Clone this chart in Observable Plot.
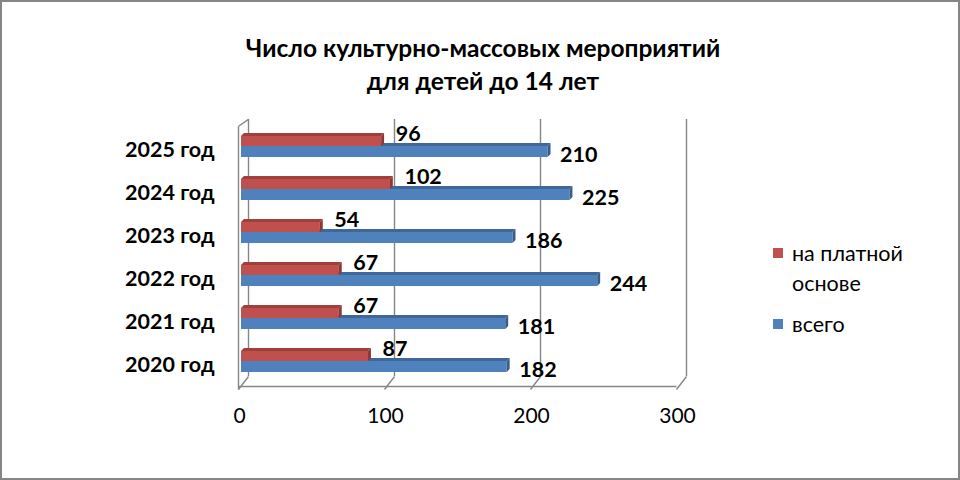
<!DOCTYPE html>
<html><head><meta charset="utf-8">
<script src="https://cdn.jsdelivr.net/npm/d3@7"></script>
<script src="https://cdn.jsdelivr.net/npm/@observablehq/plot@0.6"></script>
<style>
body{margin:0;background:#fff;}
#wrap{position:relative;width:960px;height:480px;overflow:hidden;font-family:Lato,"Open Sans",sans-serif;color:#000;}
#chart{position:absolute;left:0;top:0;}
#border{position:absolute;left:0;top:0;width:956px;height:476px;border:2px solid #868686;pointer-events:none;}
#title{position:absolute;left:0;top:31px;width:966px;text-align:center;font-weight:bold;font-size:24.5px;line-height:33px;}
#legend{position:absolute;left:773px;top:238px;font-size:21.5px;line-height:30px;}
.li{position:relative;padding-left:19px;}
.sw{position:absolute;left:0;width:10px;height:10px;}
</style></head>
<body><div id="wrap"><div id="chart"></div><div id="title"></div><div id="legend"></div><div id="border"></div></div>
<script>
const years = ["2020 год","2021 год","2022 год","2023 год","2024 год","2025 год"];
const paid = [87, 67, 67, 54, 102, 96];
const total = [182, 181, 244, 186, 225, 210];
const xTicks = [0, 100, 200, 300];
const seriesNames = ["на платной основе", "всего"];
const titleLines = ["Число культурно-массовых мероприятий", "для детей до 14 лет"];

const RED = "#C0504D", RED_DARK = "#8C3836", RED_TOP = "#9E403D";
const BLUE = "#4F81BD", BLUE_DARK = "#385D8A", BLUE_TOP = "#3F6797";
const GRID = "#868686";

const idx = years.map((_, i) => i);
const rows = idx.map(i => ({i, year: years[i], paid: paid[i], total: total[i]}));

// 3D geometry (in scale units)
const DX = 6.85, FY = -0.58, BY = -0.35, WALL_TOP_F = 5.47, WALL_TOP_B = 5.63;
const BD = 2, BH = 0.07;           // bar depth
const RH = 0.233, BLH = 0.256;     // front face heights

const floorTicks = xTicks.map(t => ({x1: t, y1: -0.65, x2: t + DX, y2: BY}));
const gridLines = xTicks.map(t => ({x: t + DX}));

function topFace(vals, y0) {
  return idx.flatMap(i => [
    {i, y: y0(i), x1: 0, x2: vals[i]},
    {i, y: y0(i) + BH, x1: BD, x2: vals[i] + BD}
  ]);
}
function capFace(vals, yb, yt) {
  return idx.flatMap(i => [
    {i, x: vals[i], y1: yb(i), y2: yt(i)},
    {i, x: vals[i] + BD, y1: yb(i) + BH, y2: yt(i) + BH}
  ]);
}

const plot = Plot.plot({
  width: 960, height: 480,
  marginLeft: 238, marginRight: 284, marginTop: 107.3, marginBottom: 93.2,
  x: {domain: [0, 300]},
  y: {type: "linear", domain: [-0.6, 5.9]},
  style: {fontFamily: "Lato, 'Open Sans', sans-serif", color: "#000", background: "transparent"},
  marks: [
    // back wall grid
    Plot.ruleX(gridLines, {x: "x", y1: BY, y2: WALL_TOP_B, stroke: GRID, strokeWidth: 1.4}),
    // left wall
    Plot.link([{x1: 0, y1: -0.65, x2: 0, y2: WALL_TOP_F}, {x1: 0, y1: WALL_TOP_F, x2: DX, y2: WALL_TOP_B}],
      {x1: "x1", y1: "y1", x2: "x2", y2: "y2", stroke: GRID, strokeWidth: 1.4}),
    // floor front edge
    Plot.link([{x1: 0, y1: FY, x2: 300, y2: FY}], {x1: "x1", y1: "y1", x2: "x2", y2: "y2", stroke: GRID, strokeWidth: 1.4}),
    Plot.link(floorTicks, {x1: "x1", y1: "y1", x2: "x2", y2: "y2", stroke: GRID, strokeWidth: 1.4}),
    // blue bars (всего)
    Plot.areaX(topFace(total, i => i), {y: "y", x1: "x1", x2: "x2", z: "i", fill: BLUE_TOP, dx: 3}),
    Plot.rect(rows, {x1: 0, x2: "total", y1: d => d.i - BLH, y2: d => d.i, fill: BLUE, dx: 3}),
    Plot.areaY(capFace(total, i => i - BLH, i => i), {x: "x", y1: "y1", y2: "y2", z: "i", fill: BLUE_DARK, dx: 3}),
    // red bars (на платной основе)
    Plot.areaX(topFace(paid, i => i + RH), {y: "y", x1: "x1", x2: "x2", z: "i", fill: RED_TOP, dx: 3}),
    Plot.rect(rows, {x1: 0, x2: "paid", y1: d => d.i, y2: d => d.i + RH, fill: RED, dx: 3}),
    Plot.areaY(capFace(paid, i => i, i => i + RH), {x: "x", y1: "y1", y2: "y2", z: "i", fill: RED_DARK, dx: 3}),
    // value labels
    Plot.text(rows, {x: "paid", y: d => d.i + 0.29, text: d => String(d.paid), textAnchor: "start", dx: 17,
      fontSize: 21.5, fontWeight: "bold", fill: "#000"}),
    Plot.text(rows, {x: "total", y: d => d.i - 0.2, text: d => String(d.total), textAnchor: "start", dx: 15,
      fontSize: 21.5, fontWeight: "bold", fill: "#000"}),
    // axes
    Plot.axisY({ticks: idx, tickFormat: i => years[i], tickSize: 0, tickPadding: 24, fontSize: 21.5,
      fontWeight: "bold", dy: 4, label: null}),
    Plot.axisX({ticks: xTicks, tickSize: 0, tickPadding: 21, fontSize: 21, dx: 1, label: null, tickFormat: d => String(d)})
  ]
});
document.getElementById("chart").appendChild(plot);

document.getElementById("title").innerHTML = titleLines.map(t => `<div>${t}</div>`).join("");

const legendColors = [RED, BLUE];
const leg = document.getElementById("legend");
leg.innerHTML = `
  <div class="li"><span class="sw" style="background:${legendColors[0]};top:10px"></span>на платной<br>основе</div>
  <div class="li" style="margin-top:11px"><span class="sw" style="background:${legendColors[1]};top:10px"></span>${seriesNames[1]}</div>`;
</script>
</body></html>
